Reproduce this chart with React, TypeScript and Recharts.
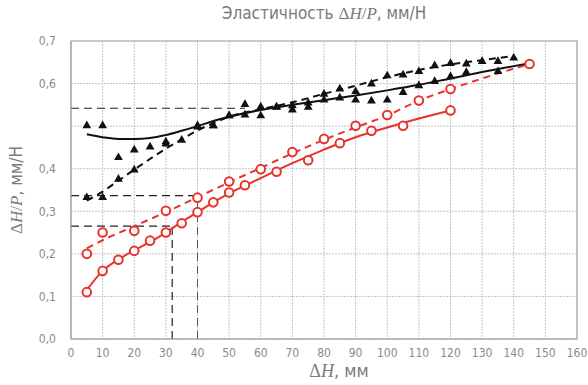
import React from 'react';
import {
  ComposedChart, Line, Scatter, XAxis, YAxis, CartesianGrid, ReferenceLine, ReferenceArea,
} from 'recharts';

// точки: [ΔH, ΔH/P]
const blackSolidPts = [
  [5, 0.503], [10, 0.503], [15, 0.428], [20, 0.446], [25, 0.453], [30, 0.46], [40, 0.503],
  [45, 0.503], [50, 0.526], [55, 0.528], [60, 0.526], [65, 0.546], [70, 0.54], [75, 0.546],
  [80, 0.563], [85, 0.568], [90, 0.563], [95, 0.561], [100, 0.563], [105, 0.581], [110, 0.597],
  [115, 0.607], [120, 0.618], [125, 0.628], [135, 0.63],
];
const blackDashedPts = [
  [5, 0.334], [10, 0.334], [15, 0.377], [20, 0.399], [30, 0.465], [35, 0.469], [40, 0.5],
  [45, 0.503], [50, 0.526], [55, 0.553], [60, 0.547], [65, 0.547], [70, 0.55], [75, 0.556],
  [80, 0.577], [85, 0.589], [90, 0.583], [95, 0.601], [100, 0.62], [105, 0.622], [110, 0.63],
  [115, 0.644], [120, 0.649], [125, 0.648], [130, 0.654], [135, 0.654], [140, 0.662],
];
const redSolidPts = [
  [5, 0.11], [10, 0.16], [15, 0.186], [20, 0.207], [25, 0.231], [30, 0.25], [35, 0.272],
  [40, 0.298], [45, 0.321], [50, 0.344], [55, 0.361], [65, 0.393], [75, 0.42], [85, 0.46],
  [95, 0.489], [105, 0.501], [120, 0.537],
];
const redDashedPts = [
  [5, 0.2], [10, 0.25], [20, 0.254], [30, 0.301], [40, 0.332], [50, 0.37], [60, 0.399],
  [70, 0.439], [80, 0.47], [90, 0.501], [100, 0.526], [110, 0.56], [120, 0.587], [145, 0.646],
];

// аппроксимирующие кривые
const blackSolidFit = [
  [5, 0.481], [10, 0.474], [15, 0.47], [20, 0.47], [25, 0.472], [30, 0.479], [35, 0.489],
  [40, 0.5], [45, 0.512], [50, 0.522], [60, 0.538], [70, 0.55], [80, 0.561], [90, 0.572],
  [100, 0.584], [110, 0.597], [120, 0.612], [130, 0.627], [145, 0.648],
];
const blackDashedFit = [
  [5, 0.325], [10, 0.346], [15, 0.372], [20, 0.398], [25, 0.423], [30, 0.447], [35, 0.469],
  [40, 0.49], [45, 0.507], [50, 0.522], [60, 0.54], [70, 0.556], [80, 0.576], [90, 0.595],
  [100, 0.615], [110, 0.632], [120, 0.645], [130, 0.655], [140, 0.665],
];
const redSolidFit = [
  [5, 0.115], [10, 0.16], [15, 0.187], [20, 0.208], [25, 0.228], [30, 0.25], [35, 0.275],
  [40, 0.298], [45, 0.321], [50, 0.342], [60, 0.378], [70, 0.413], [80, 0.445], [90, 0.474],
  [100, 0.497], [110, 0.518], [120, 0.537],
];
const redDashedFit = [
  [5, 0.213], [10, 0.232], [20, 0.265], [30, 0.298], [40, 0.333], [50, 0.368], [60, 0.402],
  [70, 0.436], [80, 0.468], [90, 0.497], [100, 0.525], [110, 0.56], [120, 0.587], [130, 0.612],
  [145, 0.646],
];

const xTicks = [0, 10, 20, 30, 40, 50, 60, 70, 80, 90, 100, 110, 120, 130, 140, 150, 160];
const yTicks = [0, 0.1, 0.2, 0.3, 0.4, 0.5, 0.6, 0.7];
const hiddenYTick = 0.5;

const toXY = (arr: number[][]) => arr.map(([x, y]) => ({ x, y }));

const RED = '#e8322c';
const GRID = '#c4c4c4';
const TXT = '#8a8a8a';
const FONT = "'DejaVu Sans Condensed', 'Liberation Sans Narrow', 'Roboto', sans-serif";
const MATH = "'Liberation Serif', serif";

const Triangle = (props: any) => {
  const { cx, cy } = props;
  if (cx == null || cy == null) return null;
  const s = 4.4;
  return <polygon points={`${cx},${cy - s} ${cx + s},${cy + s * 0.75} ${cx - s},${cy + s * 0.75}`} fill="#111" />;
};

const Circle = (props: any) => {
  const { cx, cy } = props;
  if (cx == null || cy == null) return null;
  return <circle cx={cx} cy={cy} r={4.3} fill="#fff" stroke={RED} strokeWidth={2} />;
};

const Math_ = ({ children }: { children: React.ReactNode }) => (
  <span style={{ fontFamily: MATH }}>{children}</span>
);

export default function App() {
  return (
    <div style={{ position: 'fixed', left: 0, top: 0, width: 588, height: 385, background: '#fff', fontFamily: FONT }}>
      <div style={{ position: 'absolute', left: 0, width: 648, top: 3, textAlign: 'center', fontSize: 17, color: '#7a7a7a', whiteSpace: 'nowrap' }}>
        Эластичность <Math_>Δ<i>H</i>/<i>P</i></Math_>, мм/Н
      </div>
      <div style={{ position: 'absolute', left: 0, width: 678, top: 360, textAlign: 'center', fontSize: 18, color: '#7a7a7a', whiteSpace: 'nowrap' }}>
        <Math_>Δ<i>H</i></Math_>, мм
      </div>
      <div style={{ position: 'absolute', left: 16, top: 190, transform: 'translate(-50%, -50%) rotate(-90deg)', fontSize: 17, color: '#7a7a7a', whiteSpace: 'nowrap' }}>
        <Math_>Δ<i>H</i>/<i>P</i></Math_>, мм/Н
      </div>
      <ComposedChart width={588} height={385} margin={{ top: 41, right: 11, bottom: 0, left: 0 }}>
        <CartesianGrid stroke={GRID} strokeDasharray="2 1" horizontalValues={yTicks} verticalValues={xTicks} />
        <XAxis
          type="number" dataKey="x" domain={[0, 160]} ticks={xTicks} interval={0} height={46}
          tickSize={0} tickMargin={9} axisLine={{ stroke: '#aaa' }} tickLine={false}
          tick={{ fill: TXT, fontSize: 12, fontFamily: FONT }}
        />
        <YAxis
          type="number" dataKey="y" domain={[0, 0.7]} ticks={yTicks} interval={0} width={71}
          tickSize={0} tickMargin={15} axisLine={{ stroke: '#aaa' }} tickLine={false}
          tick={{ fill: TXT, fontSize: 12, fontFamily: FONT }}
          tickFormatter={(v: number) => (Math.abs(v - hiddenYTick) < 1e-9 ? '' : v.toFixed(1).replace('.', ','))}
        />
        <ReferenceArea x1={0} x2={160} y1={0} y2={0.7} fill="none" stroke="#aaa" strokeWidth={1.2} />
        <ReferenceLine segment={[{ x: 0, y: 0.542 }, { x: 55, y: 0.542 }]} stroke="#222" strokeWidth={1.2} strokeDasharray="8 5" />
        <ReferenceLine segment={[{ x: 0, y: 0.337 }, { x: 40, y: 0.337 }]} stroke="#222" strokeWidth={1.2} strokeDasharray="8 5" />
        <ReferenceLine segment={[{ x: 0, y: 0.265 }, { x: 32, y: 0.265 }]} stroke="#222" strokeWidth={1.2} strokeDasharray="8 5" />
        <ReferenceLine segment={[{ x: 32, y: 0 }, { x: 32, y: 0.265 }]} stroke="#222" strokeWidth={1.2} strokeDasharray="8 5" />
        <ReferenceLine segment={[{ x: 40, y: 0 }, { x: 40, y: 0.337 }]} stroke="#555" strokeWidth={1} strokeDasharray="8 5" />

        <Line data={toXY(redSolidFit)} dataKey="y" type="monotone" stroke={RED} strokeWidth={2} dot={false} isAnimationActive={false} />
        <Line data={toXY(redDashedFit)} dataKey="y" type="monotone" stroke={RED} strokeWidth={2} strokeDasharray="7 5" dot={false} isAnimationActive={false} />
        <Line data={toXY(blackSolidFit)} dataKey="y" type="monotone" stroke="#111" strokeWidth={2} dot={false} isAnimationActive={false} />
        <Line data={toXY(blackDashedFit)} dataKey="y" type="monotone" stroke="#111" strokeWidth={2} strokeDasharray="7 5" dot={false} isAnimationActive={false} />

        <Scatter data={toXY(redSolidPts)} dataKey="y" shape={<Circle />} isAnimationActive={false} />
        <Scatter data={toXY(redDashedPts)} dataKey="y" shape={<Circle />} isAnimationActive={false} />
        <Scatter data={toXY(blackSolidPts)} dataKey="y" shape={<Triangle />} isAnimationActive={false} />
        <Scatter data={toXY(blackDashedPts)} dataKey="y" shape={<Triangle />} isAnimationActive={false} />
      </ComposedChart>
    </div>
  );
}
